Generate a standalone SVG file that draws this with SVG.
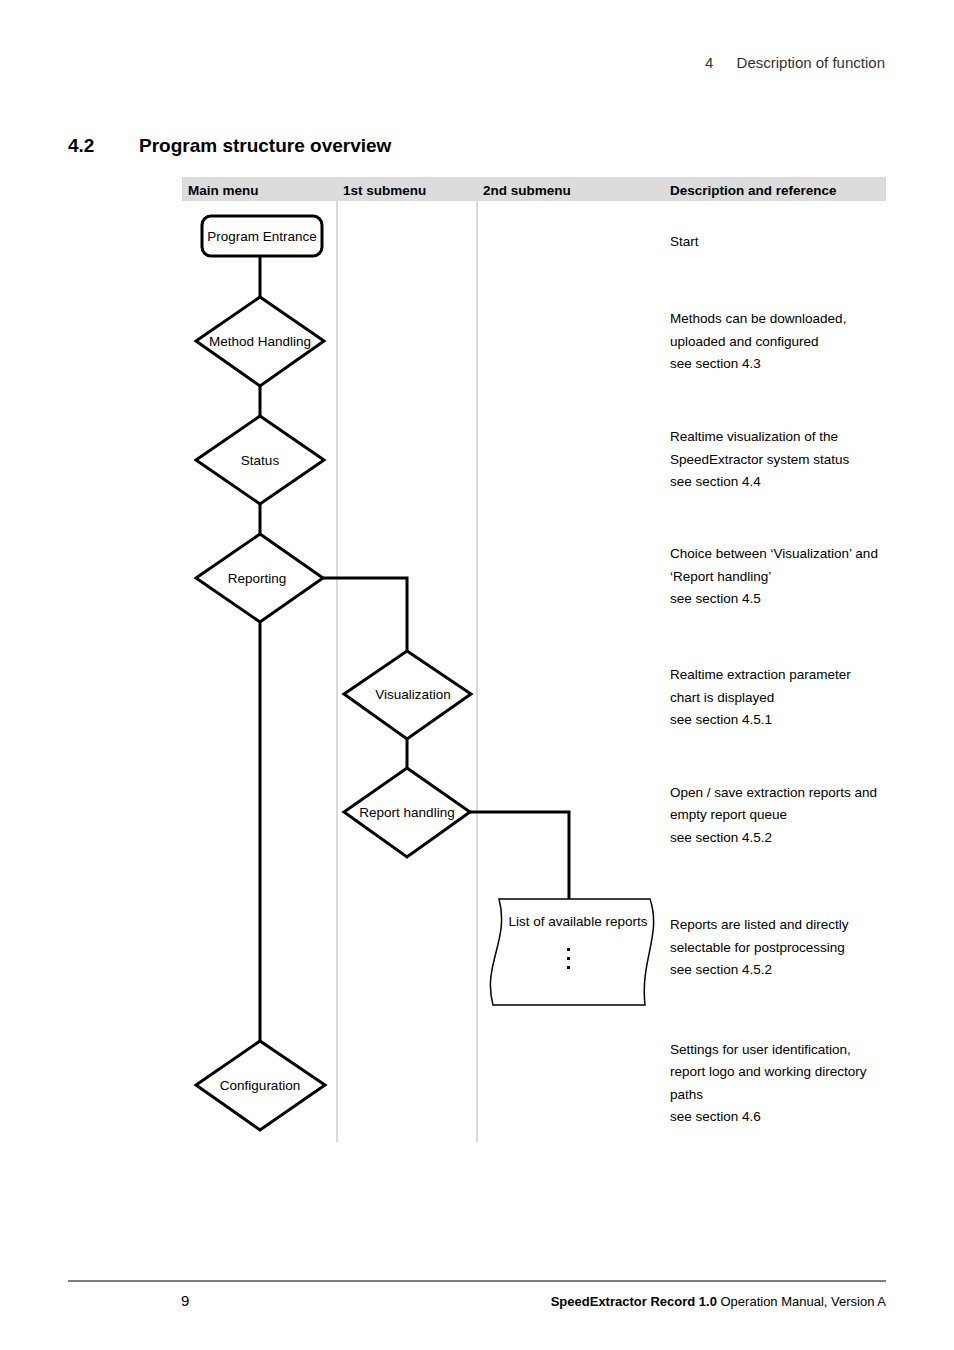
<svg xmlns="http://www.w3.org/2000/svg" width="954" height="1350" viewBox="0 0 954 1350">
<style>
.t{font-family:"Liberation Sans",Arial,sans-serif;font-size:13.5px;fill:#000}
.h{font-family:"Liberation Sans",Arial,sans-serif;font-size:13.5px;font-weight:bold}
.s{fill:#fff;stroke:#000;stroke-width:3}
.c{fill:none;stroke:#000;stroke-width:3}
.g{stroke:#ccc;stroke-width:1.5}
</style>
<rect width="954" height="1350" fill="#fff"/>
<text x="705" y="68" font-family="Liberation Sans,sans-serif" font-size="15" fill="#333">4</text>
<text x="885" y="68" text-anchor="end" font-family="Liberation Sans,sans-serif" font-size="15" fill="#333">Description of function</text>
<text x="68" y="152" font-family="Liberation Sans,sans-serif" font-size="19" font-weight="bold">4.2</text>
<text x="139" y="152" font-family="Liberation Sans,sans-serif" font-size="19" font-weight="bold">Program structure overview</text>
<rect x="182" y="177" width="704" height="24" fill="#dcdcdc"/>
<text class="h" x="188" y="195">Main menu</text>
<text class="h" x="343" y="195">1st submenu</text>
<text class="h" x="483" y="195">2nd submenu</text>
<text class="h" x="670" y="195">Description and reference</text>
<line class="g" x1="337" y1="201" x2="337" y2="1142"/>
<line class="g" x1="477" y1="201" x2="477" y2="1142"/>
<g id="connectors">
<path class="c" d="M260 256V1042"/>
<path class="c" d="M323 578H407V652"/>
<path class="c" d="M407 739V768"/>
<path class="c" d="M470 812H569V900"/>
</g>
<g id="n1"><rect class="s" x="202" y="216" width="120" height="40" rx="9"/><text class="t" x="262" y="241" text-anchor="middle">Program Entrance</text></g>
<g id="n2"><polygon class="s" points="260,297 324,341 260,386 196,341"/><text class="t" x="260" y="346" text-anchor="middle">Method Handling</text></g>
<g id="n3"><polygon class="s" points="260,416 324,460 260,504 196,460"/><text class="t" x="260" y="465" text-anchor="middle">Status</text></g>
<g id="n4"><polygon class="s" points="260,534 323,578 260,622 196,578"/><text class="t" x="257" y="583" text-anchor="middle">Reporting</text></g>
<g id="n5"><polygon class="s" points="407,651 471,694 407,739 344,694"/><text class="t" x="413" y="699" text-anchor="middle">Visualization</text></g>
<g id="n6"><polygon class="s" points="407,768 470,812 407,857 344,812"/><text class="t" x="407" y="817" text-anchor="middle">Report handling</text></g>
<g id="n7"><path fill="#fff" stroke="#000" stroke-width="1.5" d="M499 899H650C662 935 640 960 645 1005H493C482 965 510 940 499 899Z"/><text class="t" x="578" y="926" text-anchor="middle">List of available reports</text>
<rect x="567" y="948" width="3" height="3"/><rect x="567" y="957" width="3" height="3"/><rect x="567" y="966" width="3" height="3"/></g>
<g id="n8"><polygon class="s" points="260,1041 325,1085 260,1130 196,1085"/><text class="t" x="260" y="1090" text-anchor="middle">Configuration</text></g>
<g class="t">
<text x="670" y="246">Start</text>
<text x="670" y="323">Methods can be downloaded,</text><text x="670" y="346">uploaded and configured</text><text x="670" y="368">see section 4.3</text>
<text x="670" y="441">Realtime visualization of the</text><text x="670" y="464">SpeedExtractor system status</text><text x="670" y="486">see section 4.4</text>
<text x="670" y="558">Choice between ‘Visualization’ and</text><text x="670" y="581">‘Report handling’</text><text x="670" y="603">see section 4.5</text>
<text x="670" y="679">Realtime extraction parameter</text><text x="670" y="702">chart is displayed</text><text x="670" y="724">see section 4.5.1</text>
<text x="670" y="797">Open / save extraction reports and</text><text x="670" y="819">empty report queue</text><text x="670" y="842">see section 4.5.2</text>
<text x="670" y="929">Reports are listed and directly</text><text x="670" y="952">selectable for postprocessing</text><text x="670" y="974">see section 4.5.2</text>
<text x="670" y="1054">Settings for user identification,</text><text x="670" y="1076">report logo and working directory</text><text x="670" y="1099">paths</text><text x="670" y="1121">see section 4.6</text>
</g>
<line x1="68" y1="1281" x2="886" y2="1281" stroke="#000" stroke-width="1"/>
<text x="181" y="1306" font-family="Liberation Sans,sans-serif" font-size="15">9</text>
<text x="886" y="1306" text-anchor="end" font-family="Liberation Sans,sans-serif" font-size="13"><tspan font-weight="bold">SpeedExtractor Record 1.0</tspan> Operation Manual, Version A</text>
</svg>
